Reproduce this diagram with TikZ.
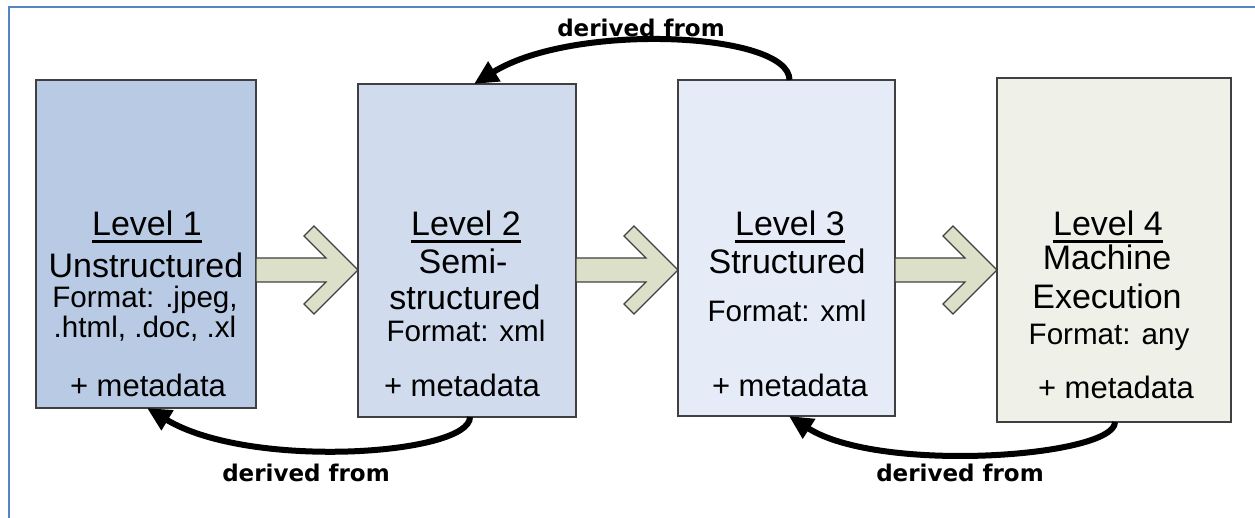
\documentclass[tikz,border=0pt]{standalone}
\usepackage{fontspec}
\setmainfont{Liberation Sans}
\newfontfamily\lblfont{DejaVu Sans}
\usetikzlibrary{arrows.meta,calc}

\definecolor{frameblue}{RGB}{84,134,196}
\definecolor{lvone}{RGB}{185,203,228}
\definecolor{lvtwo}{RGB}{208,219,238}
\definecolor{lvthree}{RGB}{229,236,247}
\definecolor{lvfour}{RGB}{239,240,232}
\definecolor{arrowfill}{RGB}{220,224,200}
\definecolor{edgegray}{RGB}{64,64,64}

% block arrow from the east side of #1 to the west side of #2, centred on y = 270
\newcommand\flowarrow[2]{%
  \path[flow] let \p1=(#1.east), \p2=(#2.west) in
    (\x1,-129pt) -- ({\x2-16pt},-129pt) -- ({\x2-27pt},-118pt) -- ({\x2-22pt},-113pt)
    -- (\x2,-135pt)
    -- ({\x2-22pt},-157pt) -- ({\x2-27pt},-152pt) -- ({\x2-16pt},-141pt) -- (\x1,-141pt) -- cycle;}

\begin{document}
\begin{tikzpicture}[x=0.5pt,y=-0.5pt,
  levelbox/.style={draw=edgegray, line width=0.75pt, rectangle, anchor=north west, inner sep=0, outer sep=0},
  big/.style={anchor=base, inner sep=0, font=\fontsize{17}{20}\selectfont},
  fmt/.style={anchor=base, inner sep=0, font=\fontsize{14.8}{17}\selectfont},
  meta/.style={anchor=base, inner sep=0, font=\fontsize{15.5}{18}\selectfont},
  lbl/.style={anchor=base, inner sep=0, font=\lblfont\bfseries\fontsize{11.5}{14}\selectfont},
  uline/.style={line width=1.5pt},
  flow/.style={draw=edgegray, line width=0.6pt, fill=arrowfill, line join=miter},
  back/.style={line width=3pt, -{Triangle[length=12pt,width=11pt]}}
]
\useasboundingbox (0,0) rectangle (1255,518);

% frame
\draw[frameblue, line width=1.1pt] (9,518) -- (9,7) -- (1255,7);

% level boxes
\node[levelbox, fill=lvone,   minimum width=110pt,  minimum height=164pt]   (b1) at (36,80)  {};
\node[levelbox, fill=lvtwo,   minimum width=109pt,  minimum height=166.5pt] (b2) at (358,84) {};
\node[levelbox, fill=lvthree, minimum width=108.5pt,minimum height=168pt]   (b3) at (678,80) {};
\node[levelbox, fill=lvfour,  minimum width=117pt,  minimum height=172pt]   (b4) at (997,78) {};

% block arrows between levels
\flowarrow{b1}{b2}
\flowarrow{b2}{b3}
\flowarrow{b3}{b4}

% level 1
\node[big]  (l1)  at (147,236) {Level 1};
\node[big]  (l1a) at (146,278) {Unstructured};
\node[fmt]  (l1b) at (145,308) {Format: .jpeg,};
\node[fmt]  (l1c) at (145,338) {.html, .doc, .xl};
\node[meta] (l1d) at (148,397) {+ metadata};

% level 2
\node[big]  (l2)  at (466,236) {Level 2};
\node[big]  (l2a) at (463,274) {Semi-};
\node[big]  (l2b) at (465,310) {structured};
\node[fmt]  (l2c) at (466,342) {Format: xml};
\node[meta] (l2d) at (462,397) {+ metadata};

% level 3
\node[big]  (l3)  at (790,236) {Level 3};
\node[big]  (l3a) at (787,274) {Structured};
\node[fmt]  (l3b) at (787,322) {Format: xml};
\node[meta] (l3c) at (790,397) {+ metadata};

% level 4
\node[big]  (l4)  at (1108,236) {Level 4};
\node[big]  (l4a) at (1107,270) {Machine};
\node[big]  (l4b) at (1107,309) {Execution};
\node[fmt]  (l4c) at (1109,345) {Format: any};
\node[meta] (l4d) at (1116,399) {+ metadata};

% underlines of the level titles
\foreach \n in {l1,l2,l3,l4}
  \draw[uline] ([yshift=-2.6pt]\n.base west) -- ([yshift=-2.6pt]\n.base east);

% "derived from" back references
\draw[back] ([xshift=1.5pt]b3.north) .. controls +(0,-48) and +(100,-62) .. ([xshift=3.5pt]b2.north);
\draw[back] ([xshift=1.5pt]b2.south) .. controls +(0,38) and +(103,62) .. ([xshift=0.5pt]b1.south);
\draw[back] ([xshift=0.5pt]b4.south) .. controls +(0,35) and +(91,58) .. ([xshift=1.2pt]b3.south);

\node[lbl] (d1) at (641,37)  {derived from};
\node[lbl] (d2) at (306,482) {derived from};
\node[lbl] (d3) at (960,482) {derived from};
\end{tikzpicture}
\end{document}
